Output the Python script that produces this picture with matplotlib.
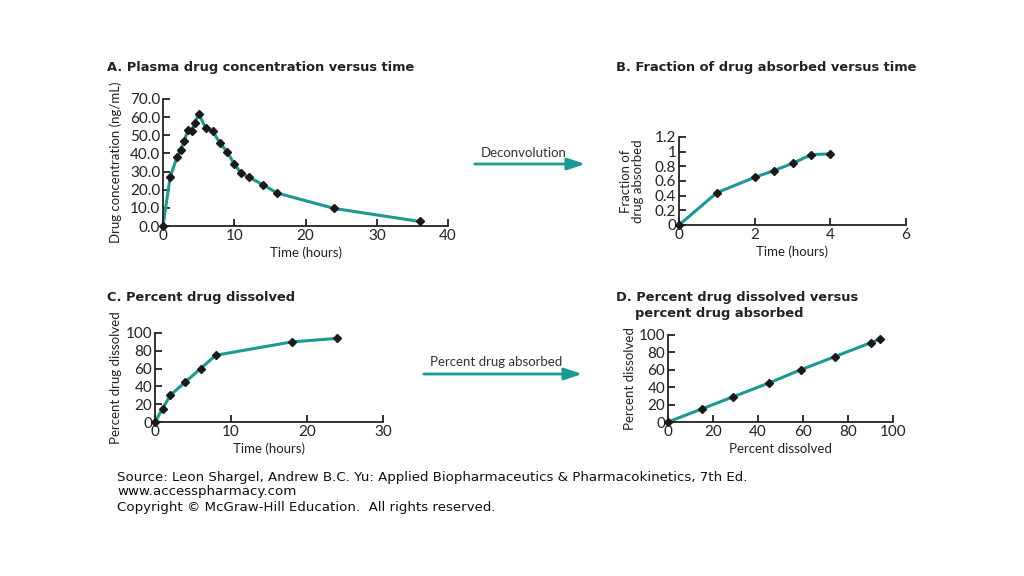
import matplotlib
matplotlib.use("Agg")
import matplotlib.pyplot as plt

# A. plasma concentration vs time
time_a = [0, 1, 2, 2.5, 3, 3.5, 4, 4.5, 5, 6, 7, 8, 9, 10, 11, 12, 14, 16, 24, 36]
conc_a = [0, 27, 38.3, 42, 47, 53, 52.5, 57, 62, 53.8, 52.3, 45.5, 41, 34, 29, 27, 22.8, 18.2, 9.7, 2.5]

# B. fraction absorbed
time_b = [0, 1, 2, 2.5, 3, 3.5, 4]
frac_b = [0, 0.44, 0.65, 0.74, 0.84, 0.96, 0.97]

# C. percent dissolved
time_c = [0, 1, 2, 4, 6, 8, 18, 24]
diss_c = [0, 15, 30, 45, 60, 75, 90, 94]

# D. dissolved vs absorbed
diss_d = [0, 15, 29, 45, 59, 74, 90, 94]
abs_d = [0, 15, 29, 45, 60, 75, 91, 95]

teal = "#1b9a94"
W, H = 1024, 576
FONT = "Lato"

fig = plt.figure(figsize=(10.24, 5.76), dpi=100)


def box(x0, y0, x1, y1):
    # pixel coords (left, top, right, bottom) -> figure fraction
    return [x0 / W, 1 - y1 / H, (x1 - x0) / W, (y1 - y0) / H]


def panel(rect, x, y, xlim, ylim, xticks, yticks, yfmt, xlabel, ylabel, ylx):
    ax = fig.add_axes(box(*rect))
    ax.plot(x, y, color=teal, lw=2.2, zorder=2)
    ax.plot(x, y, ls="none", marker="D", ms=4.5, color="#1a1a1a", zorder=3, clip_on=False)
    ax.set_xlim(*xlim)
    ax.set_ylim(*ylim)
    ax.set_xticks(xticks)
    ax.set_yticks(yticks)
    ax.set_yticklabels([yfmt.format(v) for v in yticks])
    for s in ["top", "right"]:
        ax.spines[s].set_visible(False)
    for s in ["left", "bottom"]:
        ax.spines[s].set_linewidth(1.3)
        ax.spines[s].set_color("#222222")
    ax.tick_params(direction="in", length=5, width=1.3, color="#222222",
                   labelsize=11, labelcolor="#222222", pad=2)
    for lab in ax.get_xticklabels() + ax.get_yticklabels():
        lab.set_fontfamily(FONT)
    ax.set_xlabel(xlabel, fontsize=9.5, family=FONT, color="#222222", labelpad=3)
    ax.set_ylabel(ylabel, fontsize=9.5, family=FONT, color="#222222", linespacing=1.0)
    ax.yaxis.set_label_coords(ylx, 0.5)
    return ax


panel((163, 99, 448, 226), time_a, conc_a, (0, 40), (0, 70),
      [0, 10, 20, 30, 40], [0, 10, 20, 30, 40, 50, 60, 70], "{:.1f}",
      "Time (hours)", "Drug concentration (ng/mL)", -0.145)

panel((679, 137, 906, 225), time_b, frac_b, (0, 6), (0, 1.2),
      [0, 2, 4, 6], [0, 0.2, 0.4, 0.6, 0.8, 1.0, 1.2], "{:g}",
      "Time (hours)", "Fraction of\ndrug absorbed", -0.155)

panel((155, 333, 383, 422), time_c, diss_c, (0, 30), (0, 100),
      [0, 10, 20, 30], [0, 20, 40, 60, 80, 100], "{:g}",
      "Time (hours)", "Percent drug dissolved", -0.144)

panel((668, 335, 893, 422), diss_d, abs_d, (0, 100), (0, 100),
      [0, 20, 40, 60, 80, 100], [0, 20, 40, 60, 80, 100], "{:g}",
      "Percent dissolved", "Percent dissolved", -0.143)

title_kw = dict(fontsize=9.35, fontweight="bold", family="DejaVu Sans", color="#222222", va="center")
fig.text(107 / W, 1 - 68 / H, "A. Plasma drug concentration versus time", **title_kw)
fig.text(616 / W, 1 - 68 / H, "B. Fraction of drug absorbed versus time", **title_kw)
fig.text(107 / W, 1 - 297 / H, "C. Percent drug dissolved", **title_kw)
fig.text(616 / W, 1 - 297 / H, "D. Percent drug dissolved versus", **title_kw)
fig.text(635 / W, 1 - 313 / H, "percent drug absorbed", **title_kw)

# arrows between panels
arrow_kw = dict(arrowstyle="-|>,head_length=0.9,head_width=0.3", color=teal, lw=2)
fig.add_artist(matplotlib.patches.FancyArrowPatch(
    (472 / W, 1 - 164 / H), (588 / W, 1 - 164 / H), transform=fig.transFigure,
    mutation_scale=12, **arrow_kw))
fig.text(524 / W, 1 - 153 / H, "Deconvolution", fontsize=9.5, family=FONT,
         color="#333333", ha="center", va="center")
fig.add_artist(matplotlib.patches.FancyArrowPatch(
    (421 / W, 1 - 374 / H), (585 / W, 1 - 374 / H), transform=fig.transFigure,
    mutation_scale=12, **arrow_kw))
fig.text(496 / W, 1 - 362 / H, "Percent drug absorbed", fontsize=9.5, family=FONT,
         color="#333333", ha="center", va="center")

src_kw = dict(fontsize=9.65, family="DejaVu Sans", color="#111111", va="center")
fig.text(117 / W, 1 - 477 / H,
         "Source: Leon Shargel, Andrew B.C. Yu: Applied Biopharmaceutics & Pharmacokinetics, 7th Ed.",
         **src_kw)
fig.text(117 / W, 1 - 492 / H, "www.accesspharmacy.com", **src_kw)
fig.text(117 / W, 1 - 507 / H, "Copyright \u00a9 McGraw-Hill Education.  All rights reserved.", **src_kw)

fig.savefig("out.png", dpi=100, facecolor="white")
